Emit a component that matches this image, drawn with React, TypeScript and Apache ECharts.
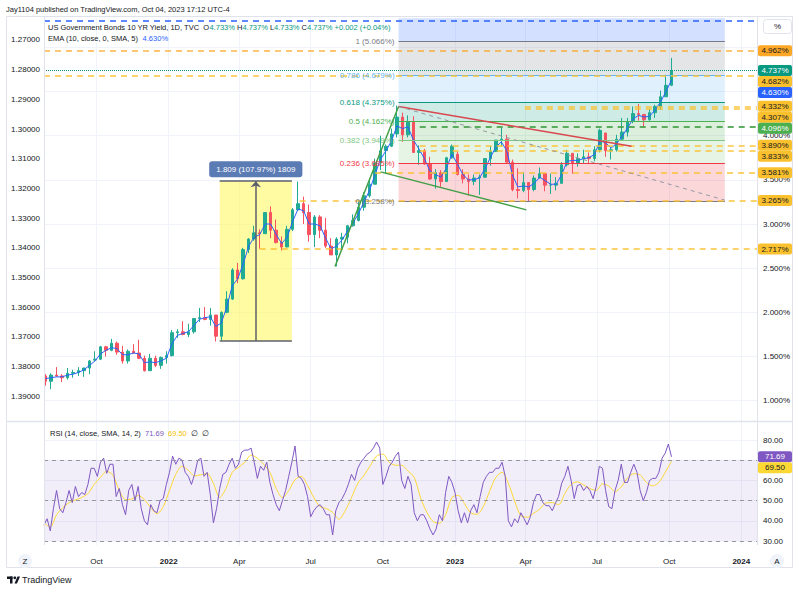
import React, { useEffect, useRef } from 'react';
import * as echarts from 'echarts';

const FONT = '"Liberation Sans", Arial, sans-serif';
const DAY = 86400000;
const toTime = (s: string): number => {
  const [y, m, d] = s.split('-').map(Number);
  return new Date(y, m - 1, d).getTime();
};

// ---------------- data ----------------
const axisStart = '2021-07-26';
const axisEnd = '2024-01-21';

// weekly candles (mid-week dates), values: [open, close, low, high] in %
const weekStart = '2021-07-28';
const weeklyOhlc: number[][] = [
  [1.28, 1.22, 1.17, 1.30], [1.22, 1.29, 1.13, 1.31], [1.29, 1.28, 1.27, 1.38], [1.28, 1.26, 1.21, 1.30],
  [1.26, 1.31, 1.24, 1.37], [1.31, 1.32, 1.26, 1.35], [1.32, 1.34, 1.28, 1.38], [1.34, 1.37, 1.27, 1.37],
  [1.37, 1.45, 1.30, 1.46], [1.46, 1.47, 1.45, 1.56], [1.47, 1.61, 1.46, 1.62], [1.61, 1.57, 1.50, 1.62],
  [1.57, 1.65, 1.56, 1.70], [1.65, 1.55, 1.52, 1.67], [1.55, 1.45, 1.42, 1.62], [1.45, 1.56, 1.42, 1.58],
  [1.56, 1.54, 1.53, 1.64], [1.54, 1.48, 1.47, 1.69], [1.48, 1.34, 1.33, 1.51], [1.34, 1.48, 1.34, 1.53],
  [1.48, 1.40, 1.38, 1.51], [1.40, 1.49, 1.36, 1.50], [1.49, 1.51, 1.42, 1.56], [1.51, 1.77, 1.50, 1.80],
  [1.77, 1.78, 1.71, 1.81], [1.78, 1.75, 1.74, 1.90], [1.75, 1.78, 1.72, 1.87], [1.78, 1.93, 1.76, 1.93],
  [1.93, 1.94, 1.89, 2.05], [1.94, 1.92, 1.91, 2.06], [1.92, 1.97, 1.85, 2.05], [1.97, 1.73, 1.67, 1.94],
  [1.73, 2.00, 1.68, 2.01], [2.00, 2.15, 1.99, 2.24], [2.15, 2.48, 2.14, 2.50], [2.48, 2.38, 2.33, 2.56],
  [2.38, 2.71, 2.37, 2.73], [2.71, 2.83, 2.67, 2.84], [2.83, 2.90, 2.81, 2.98], [2.90, 2.89, 2.72, 2.94],
  [2.89, 3.13, 2.89, 3.13], [3.13, 2.93, 2.84, 3.20], [2.93, 2.79, 2.78, 3.05], [2.79, 2.74, 2.70, 2.86],
  [2.74, 2.94, 2.74, 2.98], [2.94, 3.16, 2.92, 3.18], [3.16, 3.23, 3.15, 3.48], [3.23, 3.13, 3.00, 3.31],
  [3.13, 2.88, 2.80, 3.22], [2.88, 3.08, 2.74, 3.10], [3.08, 2.93, 2.84, 3.10], [2.93, 2.75, 2.73, 3.07],
  [2.75, 2.65, 2.65, 2.84], [2.65, 2.83, 2.52, 2.85], [2.83, 2.85, 2.72, 2.90], [2.85, 2.98, 2.78, 2.99],
  [2.98, 3.04, 2.97, 3.11], [3.04, 3.19, 3.03, 3.27], [3.19, 3.32, 3.15, 3.36], [3.32, 3.45, 3.30, 3.52],
  [3.45, 3.69, 3.45, 3.74], [3.69, 3.83, 3.61, 4.00], [3.83, 3.88, 3.57, 3.90], [3.88, 4.02, 3.87, 4.08],
  [4.02, 4.21, 3.98, 4.34], [4.21, 4.01, 3.93, 4.26], [4.01, 4.16, 3.98, 4.23], [4.16, 3.81, 3.81, 4.22],
  [3.81, 3.83, 3.67, 3.89], [3.83, 3.68, 3.67, 3.85], [3.68, 3.51, 3.50, 3.76], [3.51, 3.58, 3.40, 3.62],
  [3.58, 3.48, 3.42, 3.61], [3.48, 3.75, 3.48, 3.76], [3.75, 3.88, 3.74, 3.90], [3.79, 3.56, 3.55, 3.82],
  [3.56, 3.51, 3.46, 3.62], [3.51, 3.48, 3.32, 3.56], [3.48, 3.52, 3.44, 3.56], [3.52, 3.53, 3.33, 3.56],
  [3.53, 3.74, 3.52, 3.74], [3.74, 3.82, 3.66, 3.88], [3.82, 3.95, 3.82, 3.95], [3.95, 3.96, 3.88, 4.09],
  [3.96, 3.70, 3.70, 4.01], [3.70, 3.39, 3.37, 3.73], [3.39, 3.38, 3.29, 3.63], [3.38, 3.47, 3.36, 3.59],
  [3.47, 3.39, 3.25, 3.44], [3.39, 3.52, 3.37, 3.55], [3.52, 3.57, 3.52, 3.64], [3.57, 3.44, 3.37, 3.57],
  [3.44, 3.44, 3.34, 3.57], [3.44, 3.46, 3.38, 3.53], [3.46, 3.67, 3.46, 3.70], [3.67, 3.80, 3.65, 3.84],
  [3.80, 3.69, 3.57, 3.80], [3.69, 3.74, 3.65, 3.80], [3.74, 3.76, 3.69, 3.84], [3.76, 3.74, 3.69, 3.81],
  [3.74, 3.84, 3.71, 3.88], [3.84, 4.06, 3.81, 4.08], [4.03, 3.83, 3.76, 4.03], [3.83, 3.84, 3.73, 3.86],
  [3.84, 3.96, 3.82, 4.01], [3.96, 4.04, 3.95, 4.20], [4.04, 4.16, 3.99, 4.20], [4.16, 4.25, 4.14, 4.33],
  [4.25, 4.24, 4.17, 4.36], [4.24, 4.18, 4.09, 4.24], [4.18, 4.26, 4.17, 4.30], [4.26, 4.33, 4.20, 4.35],
  [4.33, 4.44, 4.29, 4.51], [4.44, 4.57, 4.44, 4.69], [4.57, 4.737, 4.56, 4.88],
];

// EMA(10) read at the same weekly dates
const emaWeekly: number[] = [
  1.25, 1.26, 1.27, 1.27, 1.29, 1.30, 1.32, 1.35, 1.40, 1.45, 1.53, 1.57, 1.60, 1.59, 1.52, 1.52, 1.54, 1.53, 1.43, 1.44,
  1.43, 1.45, 1.48, 1.64, 1.74, 1.76, 1.78, 1.85, 1.92, 1.94, 1.95, 1.84, 1.88, 2.06, 2.30, 2.38, 2.55, 2.75, 2.85, 2.88,
  3.00, 3.00, 2.88, 2.78, 2.85, 3.03, 3.17, 3.15, 3.00, 3.00, 2.98, 2.84, 2.72, 2.75, 2.82, 2.92, 3.01, 3.12, 3.25, 3.38,
  3.56, 3.73, 3.83, 3.94, 4.11, 4.08, 4.10, 3.95, 3.85, 3.74, 3.60, 3.56, 3.53, 3.63, 3.79, 3.68, 3.56, 3.50, 3.50, 3.52,
  3.62, 3.75, 3.87, 3.93, 3.83, 3.56, 3.42, 3.43, 3.42, 3.46, 3.53, 3.49, 3.45, 3.45, 3.56, 3.71, 3.72, 3.72, 3.74, 3.75,
  3.79, 3.94, 3.92, 3.86, 3.91, 3.99, 4.09, 4.19, 4.23, 4.21, 4.22, 4.29, 4.38, 4.50, 4.63,
];

// RSI(14) read every 4 calendar days from the start date
const rsiStart = '2021-07-26';
const rsiStepDays = 4;
const rsiValues: number[] = [
  38, 41, 35, 46, 55, 46, 44, 49, 55, 49,
  57, 52, 54, 53, 58, 66, 66, 62, 69, 71,
  63.5, 68, 68, 52, 56, 48, 43, 55, 58, 50,
  57, 46, 40, 38, 48, 45, 44, 50, 51, 58,
  64, 72, 68, 71, 70, 64, 62, 58, 63, 70,
  71, 62, 64, 53, 39, 46, 56, 63, 64, 68,
  71, 66, 68, 74, 75, 75, 76, 69, 61, 67,
  65, 69, 59, 53, 48, 45, 50, 55, 62, 69,
  77, 62, 61, 58, 52, 42, 45, 47, 48, 46,
  43, 43, 33, 45, 49, 51, 54, 58, 63, 60,
  66, 69, 71, 73, 74, 76, 79, 76, 58, 62,
  67, 69, 72, 74, 60, 56, 62, 58, 44, 40,
  43, 43, 40, 36, 33, 36, 43, 40, 54, 62,
  59, 54, 45, 39, 44, 39, 45, 48, 44, 52,
  59, 62, 64, 64, 66, 66, 69, 62, 40, 37,
  41, 39, 44, 41, 38, 42, 49, 53, 53, 49,
  47.5, 47.5, 45, 48.7, 52, 58.6, 62, 67, 60, 51,
  57.5, 58, 55, 57, 55, 51, 57, 67, 66, 55,
  47, 46, 55, 60, 68, 59, 59, 64, 68, 64,
  55, 50, 54, 60, 61, 61, 64, 71, 73.5, 78,
  71.69,
];

// RSI-based MA(14) read every 8 calendar days from the start date
const rsiMaStepDays = 8;
const rsiMaValues: number[] = [
  38.8, 37, 43, 46.5, 49, 50.3, 51.5, 53.5, 58, 61.5,
  64.5, 62.5, 55, 50.5, 50.8, 52.5, 50.5, 46.5, 43.5, 47,
  55, 63, 67, 65, 62.2, 62.8, 63.3, 58.5, 51.5, 56,
  64, 66.5, 69, 72.5, 71, 68, 64, 56, 51.5, 55,
  60.3, 62, 57.5, 51.5, 47, 46, 44.2, 40.8, 45, 51.5,
  58.5, 62.5, 67.3, 72, 73, 69, 67.5, 67.5, 64.6, 61.5,
  51.5, 44.3, 39.7, 38.8, 43, 51.5, 52.6, 48.5, 44, 43.2,
  47, 54.5, 61.5, 64, 58.5, 49.8, 42.5, 41.8, 43.7, 45.8,
  48.8, 49, 48, 53.5, 58, 59.3, 57.7, 56, 55, 58.3,
  57.2, 54.5, 56.8, 61.3, 63.3, 62.7, 59, 57.3, 59, 64,
  69.5,
];

// last daily bar shown in the legend
const lastDayOpen = 4.733;
const lastDayHigh = 4.737;
const lastDayLow = 4.733;
const lastDayClose = 4.737;
const lastDayChange = 0.002;
const lastDayChangePct = 0.04;

// horizontal support / resistance lines
const levelValues: number[] = [4.962, 4.682, 4.332, 4.307, 4.096, 3.890, 3.833, 3.581, 3.265, 2.717];
const levelStarts: (string | null)[] = [null, null, '2023-03-31', '2023-03-31', '2022-11-17', '2022-11-17', '2022-11-17', '2022-09-21', '2022-06-17', '2022-04-27'];
const levelKinds: string[] = ['orange', 'yellow', 'yellow', 'yellow', 'green', 'yellow', 'yellow', 'yellow', 'yellow', 'yellow'];
const topLineValue = 5.301;

// Fibonacci retracement
const fibStart = '2022-10-21';
const fibEnd = '2023-12-11';
const fibLow = 3.258;
const fibHigh = 5.066;
const fibRatios: number[] = [0, 0.236, 0.382, 0.5, 0.618, 0.786, 1];
const fibTop = 5.33;

// trend lines [date, yield]
const trendUp: [string, number][] = [['2022-08-01', 2.52], ['2022-10-21', 4.33]];
const channelLow: [string, number][] = [['2022-09-28', 3.59], ['2023-04-02', 3.16]];
const resistance: [string, number][] = [['2022-10-21', 4.33], ['2023-08-14', 3.88]];
const projection: [string, number][] = [['2022-10-21', 4.33], ['2023-12-11', 3.27]];

// price range measurement
const rangeStart = '2022-03-07';
const rangeEnd = '2022-06-07';
const rangeArrowDate = '2022-04-22';
const rangeLow = 1.6755;
const rangeHigh = 3.4845;

// -------------- derived ---------------
const axisMin = toTime(axisStart);
const axisMax = toTime(axisEnd);
const candleTimes = weeklyOhlc.map((_, i) => toTime(weekStart) + i * 7 * DAY);
const candleData = weeklyOhlc.map((c, i) => [candleTimes[i], c[0], c[1], c[2], c[3]]);
const emaData = emaWeekly.map((v, i) => [candleTimes[i], v]);
const rsiData = rsiValues.map((v, i) => [toTime(rsiStart) + i * rsiStepDays * DAY, v]);
const rsiMaData = rsiMaValues.map((v, i) => [toTime(rsiStart) + i * rsiMaStepDays * DAY, v]);
const lastClose = weeklyOhlc[weeklyOhlc.length - 1][1];
const lastEma = emaWeekly[emaWeekly.length - 1];
const lastRsi = rsiValues[rsiValues.length - 1];
const lastRsiMa = rsiMaValues[rsiMaValues.length - 1];

const fibValues = fibRatios.map((r) => fibLow + r * (fibHigh - fibLow));
const fibColors = ['#787b86', '#f23645', '#81c784', '#4caf50', '#089981', '#64b5f6', '#787b86'];
const fibFills = [
  'rgba(242,54,69,0.2)', 'rgba(129,199,132,0.2)', 'rgba(76,175,80,0.2)', 'rgba(8,153,129,0.2)',
  'rgba(100,181,246,0.2)', 'rgba(120,123,134,0.2)', 'rgba(41,98,255,0.2)',
];
const kindLine: Record<string, string> = {
  orange: 'rgba(255,152,0,0.55)', yellow: 'rgba(251,192,45,0.7)', green: 'rgba(67,160,71,0.85)',
};
const kindTag: Record<string, [string, string]> = {
  orange: ['#ffa726', '#131722'], yellow: ['#fbc02d', '#131722'], green: ['#4caf50', '#ffffff'],
};

const MONTHS = ['Jan', 'Feb', 'Mar', 'Apr', 'May', 'Jun', 'Jul', 'Aug', 'Sep', 'Oct', 'Nov', 'Dec'];

function seg(a: [string, number], b: [string, number], lineStyle: any) {
  return [{ coord: [toTime(a[0]), a[1]], lineStyle }, { coord: [toTime(b[0]), b[1]] }];
}

const mainLabelFmt = (hidden: number[]) => (v: number) =>
  v < 0.9 || v > 5.4 || hidden.some((h) => Math.abs(h - v) < 1e-9) ? '' : `${v.toFixed(3)}%`;
const rsiLabelFmt = (hidden: number[]) => (v: number) =>
  v < 25 || v > 85 || hidden.some((h) => Math.abs(h - v) < 1e-9) ? '' : v.toFixed(2);

function buildOption(): any {
  const fibZones = fibValues.map((lo, i) => [
    { coord: [toTime(fibStart), lo], itemStyle: { color: fibFills[i] } },
    { coord: [toTime(fibEnd), i < fibValues.length - 1 ? fibValues[i + 1] : fibTop] },
  ]);
  const fibLines = fibValues.map((v, i) => [
    {
      coord: [toTime(fibStart), v],
      lineStyle: { color: fibColors[i], width: 1, type: 'solid' },
      label: {
        show: true, position: 'start', distance: 4, color: fibColors[i], fontSize: 8, fontFamily: FONT,
        padding: [0, 0, 12, 0], formatter: `${fibRatios[i]} (${v.toFixed(3)}%)`,
      },
    },
    { coord: [toTime(fibEnd), v] },
  ]);
  const levelLines = levelValues.map((v, i) => {
    const ls = { color: kindLine[levelKinds[i]], width: 2, type: [6, 5] };
    const st = levelStarts[i];
    if (st == null) return { yAxis: v, lineStyle: ls };
    return [{ coord: [toTime(st), v], lineStyle: ls }, { coord: [axisMax, v] }];
  });
  const change = rangeHigh - rangeLow;
  const rangeText = `${change.toFixed(3)} (${((change / rangeLow) * 100).toFixed(2)}%) ${Math.round(change * 1000)}`;

  const axisLabelBase = { fontSize: 8, color: '#131722', fontFamily: FONT };
  const timeBase = { type: 'time', min: axisMin, max: axisMax };

  return {
    animation: false,
    backgroundColor: '#ffffff',
    textStyle: { fontFamily: FONT },
    grid: [
      { left: 44, right: 43, top: 3.125, height: 441.75 },
      { left: 44, right: 43, top: 419.8, height: 141.4 },
      { left: 44, right: 43, top: 10.33, height: 415.37 },
      { left: 44, right: 43, top: 18, height: 527 },
    ],
    xAxis: [
      { ...timeBase, gridIndex: 0, show: false },
      { ...timeBase, gridIndex: 1, show: false },
      { type: 'value', gridIndex: 2, show: false, min: 0, max: 1 },
      {
        ...timeBase, gridIndex: 3, minInterval: 92 * DAY, maxInterval: 92 * DAY,
        axisLine: { show: false }, axisTick: { show: false },
        splitLine: { show: true, lineStyle: { color: '#f0f3fa', width: 1 } },
        axisLabel: {
          ...axisLabelBase, margin: 12,
          formatter: (val: number) => {
            const d = new Date(val);
            if (d.getDate() !== 1 || d.getMonth() % 3 !== 0) return '';
            if (d.getMonth() === 0) return `{b|${d.getFullYear()}}`;
            return MONTHS[d.getMonth()];
          },
          rich: { b: { fontWeight: 'bold', fontSize: 8, color: '#131722', fontFamily: FONT } },
        },
      },
    ],
    yAxis: [
      {
        type: 'value', gridIndex: 0, position: 'right', min: 0.5, max: 5.5, interval: 0.5,
        axisLine: { show: false }, axisTick: { show: false },
        splitLine: { show: true, showMinLine: false, showMaxLine: false, lineStyle: { color: '#f0f3fa' } },
        axisLabel: { ...axisLabelBase, margin: 6, formatter: mainLabelFmt([]) },
      },
      {
        type: 'value', gridIndex: 1, position: 'right', min: 20, max: 90, interval: 10,
        axisLine: { show: false }, axisTick: { show: false },
        splitLine: { show: true, showMinLine: false, showMaxLine: false, lineStyle: { color: '#f0f3fa' } },
        axisLabel: { ...axisLabelBase, margin: 6, formatter: rsiLabelFmt([]) },
      },
      {
        type: 'value', gridIndex: 2, position: 'left', inverse: true, min: 1.26, max: 1.40, interval: 0.01,
        axisLine: { show: false }, axisTick: { show: false }, splitLine: { show: false },
        axisLabel: { ...axisLabelBase, margin: 4, formatter: (v: number) => (v < 1.265 || v > 1.395 ? '' : v.toFixed(5)) },
      },
      { type: 'value', gridIndex: 3, show: false, min: 0, max: 1 },
    ],
    series: [
      {
        type: 'line', xAxisIndex: 0, yAxisIndex: 0, data: [], z: 1, silent: true,
        markArea: {
          silent: true,
          data: [
            ...fibZones,
            [
              { coord: [toTime(rangeStart), rangeLow], itemStyle: { color: 'rgba(255,248,100,0.6)' } },
              { coord: [toTime(rangeEnd), rangeHigh] },
            ],
          ],
        },
        markLine: { silent: true, symbol: ['none', 'none'], label: { show: false }, emphasis: { disabled: true }, data: fibLines },
      },
      {
        type: 'candlestick', xAxisIndex: 0, yAxisIndex: 0, z: 2, barWidth: 3, silent: true,
        encode: { x: 0, y: [1, 2, 3, 4] },
        data: candleData,
        itemStyle: { color: '#22ab94', color0: '#f7525f', borderColor: '#22ab94', borderColor0: '#f7525f', borderWidth: 1 },
      },
      {
        type: 'line', xAxisIndex: 0, yAxisIndex: 0, z: 3, data: emaData, showSymbol: false, silent: true,
        lineStyle: { color: '#2962ff', width: 1 },
      },
      {
        type: 'line', xAxisIndex: 0, yAxisIndex: 0, data: [], z: 4, silent: true,
        markLine: {
          silent: true, symbol: ['none', 'none'], label: { show: false }, emphasis: { disabled: true },
          data: [
            { yAxis: topLineValue, lineStyle: { color: '#2962ff', width: 1.5, type: [6, 5] } },
            ...levelLines,
            { yAxis: lastClose, lineStyle: { color: '#089981', width: 1, type: 'dotted' } },
            seg(trendUp[0], trendUp[1], { color: '#43a047', width: 1.5, type: 'solid' }),
            seg(channelLow[0], channelLow[1], { color: '#43a047', width: 1.5, type: 'solid' }),
            seg(resistance[0], resistance[1], { color: '#d9474f', width: 1.5, type: 'solid' }),
            seg(projection[0], projection[1], { color: '#9598a1', width: 1, type: [4, 4] }),
            [{ coord: [toTime(rangeStart), rangeLow], lineStyle: { color: '#5d606b', width: 1.5, type: 'solid' } }, { coord: [toTime(rangeEnd), rangeLow] }],
            [{ coord: [toTime(rangeStart), rangeHigh], lineStyle: { color: '#5d606b', width: 1.5, type: 'solid' } }, { coord: [toTime(rangeEnd), rangeHigh] }],
            [
              {
                coord: [toTime(rangeArrowDate), rangeLow], symbol: 'none',
                lineStyle: { color: '#5d606b', width: 1.5, type: 'solid' },
                label: {
                  show: true, position: 'end', distance: 4, formatter: rangeText, color: '#ffffff', fontSize: 8,
                  fontFamily: FONT, backgroundColor: '#5b7bb5', padding: [4, 7], borderRadius: 3,
                },
              },
              { coord: [toTime(rangeArrowDate), rangeHigh], symbol: 'arrow', symbolSize: [8, 6] },
            ],
          ],
        },
      },
      {
        type: 'line', xAxisIndex: 1, yAxisIndex: 1, data: [], z: 1, silent: true,
        markArea: { silent: true, itemStyle: { color: 'rgba(126,87,194,0.1)' }, data: [[{ yAxis: 30 }, { yAxis: 70 }]] },
        markLine: {
          silent: true, symbol: ['none', 'none'], label: { show: false }, emphasis: { disabled: true },
          lineStyle: { color: '#9598a1', width: 1, type: [4, 4] },
          data: [{ yAxis: 70 }, { yAxis: 50 }, { yAxis: 30 }],
        },
      },
      {
        type: 'line', xAxisIndex: 1, yAxisIndex: 1, z: 3, data: rsiData, showSymbol: false, silent: true,
        lineStyle: { color: '#7e57c2', width: 1 },
      },
      {
        type: 'line', xAxisIndex: 1, yAxisIndex: 1, z: 2, data: rsiMaData, showSymbol: false, silent: true, smooth: 0.3,
        lineStyle: { color: '#fdd835', width: 1 },
      },
    ],
  };
}

type TagItem = { v: number; text: string; bg: string; fg: string };

function tag(y: number, text: string, bg: string, fg: string): any[] {
  return [
    { type: 'rect', z: 30, shape: { x: 758, y: y - 5.5, width: 34, height: 11, r: 2 }, style: { fill: bg } },
    {
      type: 'text', z: 31,
      style: { x: 775, y, text, fill: fg, font: `8px ${FONT}`, align: 'center', verticalAlign: 'middle', textAlign: 'center', textVerticalAlign: 'middle' },
    },
  ];
}

function placeTags(chart: any, items: TagItem[], axis: number) {
  const placed = items
    .map((it) => ({ ...it, y: chart.convertToPixel({ yAxisIndex: axis }, it.v) as number }))
    .sort((a, b) => a.y - b.y);
  for (let i = 1; i < placed.length; i++) {
    if (placed[i].y < placed[i - 1].y + 11) placed[i].y = placed[i - 1].y + 11;
  }
  return placed;
}

// axis tick values fully hidden under a price tag (as in the reference)
function coveredTicks(chart: any, ticks: number[], placed: { y: number }[], axis: number): number[] {
  return ticks.filter((t) => {
    const y = chart.convertToPixel({ yAxisIndex: axis }, t) as number;
    return placed.some((p) => Math.abs(p.y - y) < 6);
  });
}

function buildGraphics(chart: any, mainPlaced: any[], rsiPlaced: any[]): any[] {
  const border = '#e0e3eb';
  const f8 = `8px ${FONT}`;
  const f75 = `7.5px ${FONT}`;
  const pct = (v: number) => `${v.toFixed(3)}%`;
  const sign = (v: number) => (v >= 0 ? '+' : '');
  const centered = { align: 'center', verticalAlign: 'middle', textAlign: 'center', textVerticalAlign: 'middle' };
  return [
    { type: 'rect', shape: { x: 6.5, y: 16.5, width: 786, height: 551 }, style: { fill: 'none', stroke: border, lineWidth: 1 }, z: 10 },
    { type: 'line', shape: { x1: 44.5, y1: 17, x2: 44.5, y2: 545 }, style: { stroke: border, lineWidth: 1 }, z: 10 },
    { type: 'line', shape: { x1: 757.5, y1: 17, x2: 757.5, y2: 545 }, style: { stroke: border, lineWidth: 1 }, z: 10 },
    { type: 'line', shape: { x1: 6, y1: 421.5, x2: 793, y2: 421.5 }, style: { stroke: border, lineWidth: 1.5 }, z: 10 },
    {
      type: 'text', z: 20,
      style: { x: 6, y: 9, text: 'Jay1104 published on TradingView.com, Oct 04, 2023 17:12 UTC-4', font: f75, fill: '#131722', verticalAlign: 'middle', textVerticalAlign: 'middle' },
    },
    {
      type: 'text', z: 20,
      style: {
        x: 48, y: 27, font: f75, fill: '#131722', verticalAlign: 'middle', textVerticalAlign: 'middle',
        text: `{d|US Government Bonds 10 YR Yield, 1D, TVC  O}{g|${pct(lastDayOpen)}}{d| H}{g|${pct(lastDayHigh)}}{d| L}{g|${pct(lastDayLow)}}{d| C}{g|${pct(lastDayClose)}}{g| ${sign(lastDayChange)}${lastDayChange.toFixed(3)} (${sign(lastDayChangePct)}${lastDayChangePct.toFixed(2)}%)}`,
        rich: { d: { fill: '#131722', font: f75 }, g: { fill: '#089981', font: f75 } },
      },
    },
    {
      type: 'text', z: 20,
      style: {
        x: 48, y: 38, font: f75, fill: '#131722', verticalAlign: 'middle', textVerticalAlign: 'middle',
        text: `{d|EMA (10, close, 0, SMA, 5)  }{b|${pct(lastEma)}}`,
        rich: { d: { fill: '#131722', font: f75 }, b: { fill: '#2962ff', font: f75 } },
      },
    },
    {
      type: 'text', z: 20,
      style: {
        x: 50, y: 433, font: f75, fill: '#131722', verticalAlign: 'middle', textVerticalAlign: 'middle',
        text: `{d|RSI (14, close, SMA, 14, 2)  }{p|${lastRsi.toFixed(2)}}{d|  }{y|${lastRsiMa.toFixed(2)}}{d|  ∅  ∅}`,
        rich: { d: { fill: '#131722', font: f75 }, p: { fill: '#7e57c2', font: f75 }, y: { fill: '#f2c200', font: f75 } },
      },
    },
    { type: 'rect', z: 20, shape: { x: 763.5, y: 19.5, width: 28, height: 14, r: 3 }, style: { fill: '#ffffff', stroke: border, lineWidth: 1 } },
    { type: 'text', z: 21, style: { x: 777.5, y: 26.5, text: '%', font: f8, fill: '#131722', ...centered } },
    { type: 'circle', z: 20, shape: { cx: 25, cy: 561, r: 7 }, style: { fill: '#f0f3fa' } },
    { type: 'text', z: 21, style: { x: 25, y: 561, text: 'Z', font: f8, fill: '#131722', ...centered } },
    { type: 'circle', z: 20, shape: { cx: 777, cy: 561, r: 7 }, style: { fill: '#f0f3fa' } },
    { type: 'text', z: 21, style: { x: 777, y: 561, text: 'A', font: f8, fill: '#131722', ...centered } },
    { type: 'rect', z: 20, shape: { x: 7, y: 576.5, width: 5.5, height: 2.5 }, style: { fill: '#131722' } },
    { type: 'rect', z: 20, shape: { x: 10, y: 576.5, width: 2.5, height: 7 }, style: { fill: '#131722' } },
    { type: 'circle', z: 20, shape: { cx: 14.8, cy: 577.8, r: 1.4 }, style: { fill: '#131722' } },
    { type: 'polygon', z: 20, shape: { points: [[14.5, 583.5], [17.5, 576.5], [20, 576.5], [17, 583.5]] }, style: { fill: '#131722' } },
    { type: 'text', z: 20, style: { x: 22, y: 580, text: 'TradingView', font: `9px ${FONT}`, fill: '#131722', verticalAlign: 'middle', textVerticalAlign: 'middle' } },
    ...mainPlaced.flatMap((p) => tag(p.y, p.text, p.bg, p.fg)),
    ...rsiPlaced.flatMap((p) => tag(p.y, p.text, p.bg, p.fg)),
  ];
}

export default function App() {
  const ref = useRef<HTMLDivElement>(null);
  useEffect(() => {
    if (!ref.current) return;
    const chart = echarts.init(ref.current, undefined, { renderer: 'svg' });
    chart.setOption(buildOption());

    const mainItems: TagItem[] = [
      ...levelValues.map((v, i) => ({ v, text: `${v.toFixed(3)}%`, bg: kindTag[levelKinds[i]][0], fg: kindTag[levelKinds[i]][1] })),
      { v: lastClose, text: `${lastClose.toFixed(3)}%`, bg: '#089981', fg: '#ffffff' },
      { v: lastEma, text: `${lastEma.toFixed(3)}%`, bg: '#2962ff', fg: '#ffffff' },
    ];
    const rsiItems: TagItem[] = [
      { v: lastRsi, text: lastRsi.toFixed(2), bg: '#7e57c2', fg: '#ffffff' },
      { v: lastRsiMa, text: lastRsiMa.toFixed(2), bg: '#fdd835', fg: '#131722' },
    ];
    const mainPlaced = placeTags(chart, mainItems, 0);
    const rsiPlaced = placeTags(chart, rsiItems, 1);
    const mainTicks = [1, 1.5, 2, 2.5, 3, 3.5, 4, 4.5, 5];
    const rsiTicks = [30, 40, 50, 60, 70, 80];
    const hiddenMain = coveredTicks(chart, mainTicks, mainPlaced, 0);
    const hiddenRsi = coveredTicks(chart, rsiTicks, rsiPlaced, 1);

    chart.setOption({
      yAxis: [
        { axisLabel: { formatter: mainLabelFmt(hiddenMain) } },
        { axisLabel: { formatter: rsiLabelFmt(hiddenRsi) } },
      ],
      graphic: buildGraphics(chart, mainPlaced, rsiPlaced),
    });
    return () => chart.dispose();
  }, []);
  return <div ref={ref} style={{ position: 'fixed', left: 0, top: 0, width: 800, height: 592, background: '#ffffff' }} />;
}
